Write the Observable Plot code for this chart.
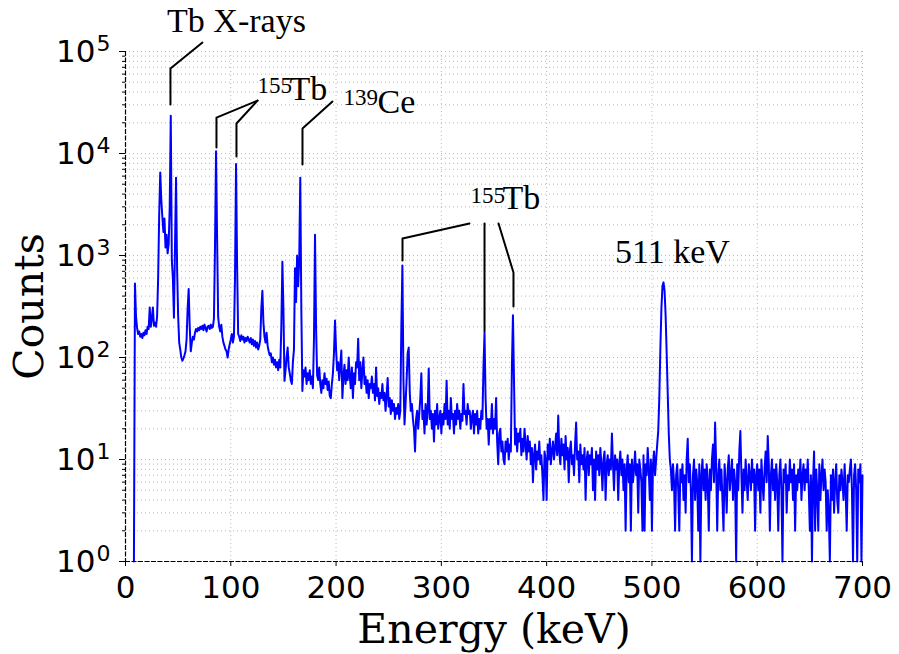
<!DOCTYPE html>
<html><head><meta charset="utf-8">
<script src="https://cdn.jsdelivr.net/npm/d3@7"></script>
<script src="https://cdn.jsdelivr.net/npm/@observablehq/plot@0.6"></script>
<style>body{margin:0;background:#fff}</style>
</head><body><div id="chart"></div>
<script>
// Gamma spectrum, 1 keV channels; each segment starts at the given energy (keV)
const segmentStarts = [8, 100, 200, 300, 400, 500, 600];
const counts008 = [1,530,250,195,170,180,160,170,155,175,165,185,170,200,190,310,200,240,310,205,220,200,250,
  600,2500,6500,3500,2400,1700,2300,1200,1600,1050,
  1300,3000,23500,900,600,245,1200,5800,760,255,
  140,120,100,93,98,105,115,150,300,470,
  200,115,140,160,150,175,190,180,195,185,
  200,190,205,185,210,195,180,200,205,190,
  210,195,200,240,1200,10500,1500,250,200,180,
  210,160,140,130,120,115,100,120,135];
const counts100 = [150,170,140,160,600,7900,800,170,160,145,
  165,150,160,140,155,145,160,150,140,155,
  135,150,130,145,125,140,120,130,150,300,
  450,220,160,140,175,130,115,105,110,90,
  100,85,95,80,90,75,95,80,200,870,
  300,59,75,100,125,80,70,60,55,90,
  120,750,350,1000,500,900,5800,300,47,75,
  65,80,55,70,60,75,55,65,50,150,
  1600,200,67,60,80,55,45,60,50,70,
  55,62,48,58,42,40,55,70,110,230];
const counts200 = [120,75,90,60,85,117,40,65,85,55,
  75,60,100,65,50,80,40,70,55,90,
  80,153,60,90,50,75,100,55,65,45,
  60,40,55,50,65,45,55,38,80,42,
  50,35,45,40,55,38,45,30,42,63,
  33,40,28,38,30,35,25,32,28,35,
  25,30,200,800,60,22,35,60,110,125,
  45,30,35,25,20,12,25,30,20,28,
  40,70,25,30,18,35,22,30,78,25,
  30,20,28,15,30,22,35,20,25,30];
const counts300 = [18,28,22,35,25,59,22,30,20,40,
  25,28,18,30,22,35,25,30,20,28,
  24,55,28,30,22,35,28,30,20,26,
  30,18,28,22,30,18,25,20,30,25,
  80,175,40,20,25,14,25,20,35,18,
  25,20,40,15,9,18,20,12,15,10,
  9,15,12,16,10,14,12,80,260,60,
  14,20,12,18,15,20,11,16,12,20,
  14,10,17,12,15,9,13,6,11,14,
  8,12,10,15,9,11,7,4,12,10];
const counts400 = [4,14,10,16,9,12,15,10,13,18,
  11,27,12,9,16,11,14,8,17,10,
  13,6,12,15,9,11,7,14,23,10,
  12,6,14,9,11,8,13,4,10,12,
  7,11,9,13,5,10,4,12,8,11,
  7,13,9,5,10,12,4,9,11,7,
  10,8,18,9,5,11,8,10,4,9,
  12,7,10,5,9,2,8,11,6,9,
  2,10,6,8,12,7,9,3,10,8,
  6,2,11,2,9,7,13,8,4,10];
const counts500 = [2,9,12,7,10,14,19,40,120,300,
  500,545,450,260,110,45,18,10,8,5,
  9,6,2,7,9,5,2,8,6,9,
  4,7,3,10,16,6,9,5,1,7,
  10,4,8,6,2,9,1,7,10,5,
  8,4,9,6,2,8,5,10,14,6,
  23,9,2,7,10,5,8,4,2,9,
  6,3,8,11,5,7,10,4,8,6,
  1,9,5,12,19,7,3,8,5,10,
  6,4,9,7,5,10,6,8,2,7];
const counts600 = [9,5,8,3,10,6,4,8,12,6,
  17,9,2,7,10,5,8,4,9,6,
  2,7,10,5,1,8,6,9,3,7,
  5,10,6,8,4,9,2,7,5,8,
  6,10,4,7,9,5,8,6,10,5,
  2,7,1,6,12,2,8,5,2,9,
  4,7,10,5,8,6,2,5,3,1,
  7,4,8,3,6,9,4,3,7,5,
  8,6,4,9,5,2,7,6,8,10,
  5,1,7,9,5,1,8,6,9,1,7];
const segmentCounts = [counts008, counts100, counts200, counts300, counts400, counts500, counts600];

// Axis ticks
const xTicks = [0,100,200,300,400,500,600,700];
const xTickLabels = ["0","100","200","300","400","500","600","700"];
const xGrid = [100,200,300,400,500,600,700];
const yMajor = [1,10,100,1000,10000,100000];
const yExpLabels = ["0","1","2","3","4","5"];
const yMinor = [2,3,4,5,6,7,8,9,20,30,40,50,60,70,80,90,200,300,400,500,600,700,800,900,
  2000,3000,4000,5000,6000,7000,8000,9000,20000,30000,40000,50000,60000,70000,80000,90000];

// Annotation leader lines (energy keV, counts)
const leaderId =     [1,1,1, 2,2,2, 3,3,3, 4,4,4, 5,5,5, 6,6, 7,7,7];
const leaderEnergy = [42.7,42.7,73.1, 86.4,86.4,125.4, 105.4,105.4,125.4, 168.1,168.1,196.6, 263.1,263.1,326.7, 341,341, 368.5,368.5,354.3];
const leaderCounts = [30200,68100,122500, 11450,22500,33000, 9350,19700,33000, 7800,17600,32300, 893,1468,2060, 180,2060, 316,681,2060];

// Annotation labels (centred)
const centreText = ["Tb X-rays", "511 keV"];
const centreEnergy = [105.4, 519.5];
const centreCounts = [153600, 835];
// Annotation labels (left-aligned element symbols)
const symbolText = ["Tb", "Ce", "Tb"];
const symbolEnergy = [155.8, 239.3, 358.0];
const symbolCounts = [33800, 24680, 2825];
// Mass-number superscripts
const supText = ["155", "139", "155"];
const supEnergy = [125.4, 207.0, 327.7];
const supCounts = [39600, 29560, 3236];

const spectrum = [];
segmentCounts.forEach((arr, s) => arr.forEach((c, i) => spectrum.push({energy: segmentStarts[s] + i, counts: c})));
const leaders = leaderId.map((id, i) => ({id, energy: leaderEnergy[i], counts: leaderCounts[i]}));
const centres = centreText.map((t, i) => ({t, energy: centreEnergy[i], counts: centreCounts[i]}));
const symbols = symbolText.map((t, i) => ({t, energy: symbolEnergy[i], counts: symbolCounts[i]}));
const sups = supText.map((t, i) => ({t, energy: supEnergy[i], counts: supCounts[i]}));

const serif = "Liberation Serif, Times New Roman, serif";
const grid = {stroke: "#b8b8b8", strokeDasharray: "1,3", strokeWidth: 1};
const chart = Plot.plot({
  width: 899, height: 654,
  marginLeft: 125, marginRight: 37, marginTop: 51, marginBottom: 93,
  style: {background: "white", color: "black", fontFamily: "DejaVu Sans", overflow: "visible"},
  x: {domain: [0, 700]},
  y: {type: "log", domain: [1, 1e5]},
  marks: [
    Plot.ruleY([...yMajor, ...yMinor], grid),
    Plot.ruleX(xGrid, grid),
    Plot.line(spectrum, {x: "energy", y: "counts", stroke: "#0000ff", strokeWidth: 2}),
    Plot.line(leaders, {x: "energy", y: "counts", z: "id", stroke: "black", strokeWidth: 2}),
    Plot.ruleX([0], {stroke: "black", strokeDasharray: "5,1.5", strokeWidth: 1.2}),
    Plot.ruleY([1], {stroke: "black", strokeDasharray: "5,1.5", strokeWidth: 1.2}),
    Plot.axisX({ticks: xTicks, tickSize: 5, tickFormat: () => "", label: null}),
    Plot.axisY({ticks: yMajor, tickSize: 6, tickFormat: () => "", label: null}),
    Plot.axisY({ticks: yMinor, tickSize: 3, tickFormat: () => "", label: null}),
    Plot.text(xTicks, {x: d => d, frameAnchor: "bottom", text: (d, i) => xTickLabels[i], dy: 36, textAnchor: "middle", lineAnchor: "bottom", fontSize: 31}),
    Plot.text(yMajor, {y: d => d, frameAnchor: "left", text: () => "10", dx: -30, dy: 10, textAnchor: "end", lineAnchor: "bottom", fontSize: 31}),
    Plot.text(yMajor, {y: d => d, frameAnchor: "left", text: (d, i) => yExpLabels[i], dx: -29, dy: -1, textAnchor: "start", lineAnchor: "bottom", fontSize: 22}),
    Plot.text(["Energy (keV)"], {frameAnchor: "bottom", dy: 81, textAnchor: "middle", lineAnchor: "bottom", fontFamily: "DejaVu Serif", fontSize: 41}),
    Plot.text(["Counts"], {frameAnchor: "left", dx: -83, rotate: -90, textAnchor: "middle", lineAnchor: "bottom", fontFamily: "DejaVu Serif", fontSize: 41}),
    Plot.text(centres, {x: "energy", y: "counts", text: "t", textAnchor: "middle", lineAnchor: "bottom", fontFamily: serif, fontSize: 34}),
    Plot.text(symbols, {x: "energy", y: "counts", text: "t", textAnchor: "start", lineAnchor: "bottom", fontFamily: serif, fontSize: 34}),
    Plot.text(sups, {x: "energy", y: "counts", text: "t", textAnchor: "start", lineAnchor: "bottom", fontFamily: serif, fontSize: 23})
  ]
});
document.getElementById("chart").appendChild(chart);
</script>
</body></html>
